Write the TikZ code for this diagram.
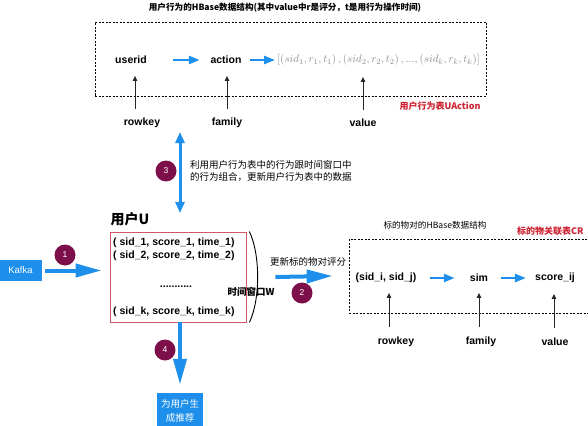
\documentclass[tikz,border=0pt]{standalone}
\usepackage{fontspec}
\setmainfont{Liberation Sans}
\newfontfamily\cjk{Noto Sans CJK SC}
\usetikzlibrary{arrows.meta}
\definecolor{ablue}{RGB}{30,144,235}
\definecolor{cred}{RGB}{205,35,50}
\definecolor{bred}{RGB}{205,90,100}
\definecolor{circ}{RGB}{125,15,75}
\definecolor{fgray}{RGB}{140,140,140}
\begin{document}
\begin{tikzpicture}[x=1pt,y=-1pt,
  lbl/.style={font=\fontsize{10.5}{12}\selectfont\bfseries, inner sep=1pt},
  cn/.style={font=\cjk\fontsize{9.5}{12}\selectfont, inner sep=0pt},
  cnb/.style={font=\cjk\fontsize{9.5}{12}\selectfont\bfseries, inner sep=0pt},
  dashbox/.style={draw=black, dash pattern=on 2pt off 1.5pt, line width=0.7pt, inner sep=0pt},
  bigarrow/.style={draw=ablue, line width=4pt, -{Triangle[length=26pt,width=13pt]}},
  smallarrow/.style={draw=ablue, line width=2.5pt, -{Triangle[length=11pt,width=8pt]}},
  dblarrow/.style={draw=ablue, line width=3pt, {Triangle[length=11pt,width=9pt]}-{Triangle[length=11pt,width=9pt]}},
  karrow/.style={draw=black!85, line width=0.9pt, -{Triangle[length=5pt,width=4.5pt]}},
  num/.style={circle, fill=circ, minimum size=21pt, inner sep=0pt, text=white, font=\fontsize{8.5}{9}\selectfont},
  bluebox/.style={fill=ablue, text=white, inner sep=0pt}
]
\useasboundingbox (0,0) rectangle (588,425);

% ---- top: user action table
\node[cnb, font=\cjk\fontsize{8.6}{10}\selectfont\bfseries] (t1) at (285,8) {用户行为的HBase数据结构(其中value中r是评分，t是用行为操作时间)};
\node[dashbox, minimum width=391pt, minimum height=74pt] (ubox) at (290.5,59) {};
\node[lbl] (userid) at (131,60) {userid};
\node[lbl] (action) at (226,60) {action};
\node[anchor=west, text=fgray, font=\fontsize{10.8}{13}\selectfont, inner sep=0pt] (vals) at (277,60)
  {$[(sid_1,r_1,t_1)\,,(sid_2,r_2,t_2)\,,...,(sid_k,r_k,t_k)]$};
\draw[smallarrow] ([xshift=25pt]userid.east) -- ([xshift=-9.5pt]action.west);
\draw[smallarrow] ([xshift=7.5pt]action.east) -- ([xshift=-2pt]vals.west);

\node[lbl] (rk1) at (142,123) {rowkey};
\node[lbl] (fam1) at (227,123) {family};
\node[lbl] (val1) at (363,123) {value};
\draw[karrow] ([xshift=-7pt,yshift=8pt]rk1.north) -- ++(0,-33);
\draw[karrow] ([yshift=8pt]fam1.north) -- ++(0,-33);
\draw[karrow] ([yshift=8pt]val1.north) -- ++(0,-33);
\node[cnb, text=cred, font=\cjk\fontsize{9}{10}\selectfont\bfseries] (ua) at (440,106) {用户行为表UAction};

% ---- step 3
\coordinate (d3top) at (180,132);
\coordinate (d3bot) at (180,213);
\draw[dblarrow] (d3top) -- (d3bot);
\node[num] (n3) at (166,171) {3};
\node[cn, anchor=west, align=left] (t3) at (190,171) {利用用户行为表中的行为跟时间窗口中\\的行为组合，更新用户行为表中的数据};

% ---- user window
\node[font=\cjk\fontsize{14}{16}\selectfont\bfseries, inner sep=0pt] (uu) at (130,219) {用户U};
\node[draw=bred, line width=0.8pt, minimum width=136pt, minimum height=90pt, inner sep=0pt] (uwin) at (178,277) {};
\node[lbl, anchor=west] (r1) at (112,243) {( sid\_1, score\_1, time\_1)};
\node[lbl, anchor=west] (r2) at (112,256) {( sid\_2, score\_2, time\_2)};
\node[lbl] (dots) at (176,287) {...........};
\node[lbl, anchor=west] (rk) at (112,312) {( sid\_k, score\_k, time\_k)};
\draw[line width=0.9pt] ([xshift=3pt]uwin.north east) .. controls +(11,23) and +(11,-23) .. ([xshift=3pt]uwin.south east);
\node[cnb] (tw) at (251,292) {时间窗口W};

% ---- kafka
\node[bluebox, minimum width=43pt, minimum height=21pt, font=\fontsize{9.5}{10}\selectfont] (kafka) at (20.5,270.5) {Kafka};
\draw[bigarrow] ([xshift=3pt]kafka.east) -- ([xshift=-8pt]uwin.west |- kafka.east);
\node[num] (n1) at (65,255) {1};

% ---- item table
\node[cn, font=\cjk\fontsize{8.6}{10}\selectfont] (t2) at (435,225) {标的物对的HBase数据结构};
\node[cnb, text=cred, font=\cjk\fontsize{9}{10}\selectfont\bfseries, anchor=west] (cr) at (517,231) {标的物关联表CR};
\node[dashbox, minimum width=243pt, minimum height=74pt] (cbox) at (470.5,276) {};
\node[lbl] (sij) at (386,278) {(sid\_i, sid\_j)};
\node[lbl] (sim) at (479,278) {sim};
\node[lbl] (sc) at (555,278) {score\_ij};
\draw[smallarrow] ([xshift=12pt]sij.east) -- ([xshift=-14pt]sim.west);
\draw[smallarrow] ([xshift=12pt]sim.east) -- ([xshift=-8pt]sc.west);
\node[lbl] (rk2) at (396,342) {rowkey};
\node[lbl] (fam2) at (481,342) {family};
\node[lbl] (val2) at (555,342) {value};
\draw[karrow] ([xshift=-7pt,yshift=9pt]rk2.north) -- ++(0,-34);
\draw[karrow] ([xshift=-2pt,yshift=9pt]fam2.north) -- ++(0,-34);
\draw[karrow] ([xshift=-1pt,yshift=9pt]val2.north) -- ++(0,-34);

% ---- step 2
\node[cn] (t2u) at (308,262) {更新标的物对评分};
\draw[bigarrow] ([xshift=29pt]uwin.east) -- ([xshift=-16pt]cbox.west);
\node[num] (n2) at (302,293) {2};

% ---- step 4
\node[bluebox, minimum width=46pt, minimum height=36pt, align=center, font=\cjk\fontsize{9.5}{14}\selectfont] (rec) at (180,411) {为用户生\\成推荐};
\draw[bigarrow] ([xshift=2pt]uwin.south) -- ([yshift=8pt]rec.north);
\node[num] (n4) at (165,350) {4};
\end{tikzpicture}
\end{document}
